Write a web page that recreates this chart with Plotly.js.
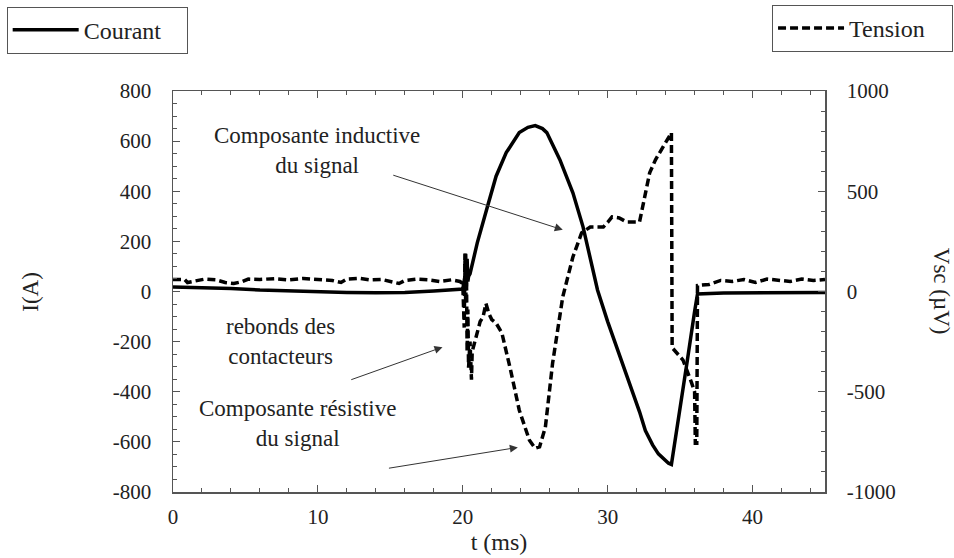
<!DOCTYPE html>
<html>
<head>
<meta charset="utf-8">
<script src="https://cdn.plot.ly/plotly-3.0.1.min.js"></script>
<style>html,body{margin:0;padding:0;background:#fff;}#chart{width:954px;height:558px;}</style>
</head>
<body>
<div id="chart"></div>
<script>
// Courant (A) vs time (ms)
const tCourant = [0, 2, 4, 6, 8, 10, 12, 14, 16, 18, 19.5, 20.0, 20.15, 20.2, 20.25, 20.3, 20.35, 20.4, 20.5, 21.0, 21.7, 22.3, 23.0, 23.9, 24.5, 25.0, 25.5, 25.8, 26.7, 27.6, 28.3, 28.8, 29.3, 30.0, 30.8, 31.5, 32.2, 32.6, 33.1, 33.5, 33.9, 34.2, 34.4, 35.0, 35.5, 36.0, 36.2, 38, 40, 42, 45];
const courant = [18, 16, 12, 6, 2, -2, -4, -5, -4, 2, 8, 10, 60, 150, 20, 130, 40, 60, 70, 194, 338, 460, 554, 634, 655, 662, 650, 634, 526, 394, 258, 126, 6, -120, -250, -370, -480, -555, -612, -648, -672, -685, -690, -470, -274, -80, -10, -6, -5, -4, -4];

// Tension (µV) vs time (ms)
const tTension = [0, 0.8, 1.0, 1.6, 2.2, 3.0, 3.6, 4.2, 4.8, 5.2, 6.0, 7.0, 8.0, 9.0, 10.0, 11.0, 11.6, 12.0, 12.8, 13.6, 14.4, 15.0, 15.6, 16.0, 16.8, 17.6, 18.4, 19.2, 19.8, 20.0, 20.1, 20.15, 20.2, 20.25, 20.3, 20.35, 20.4, 20.5, 20.6, 20.65, 20.8, 21.0, 21.2, 21.4, 21.6, 21.8, 22.0, 22.3, 22.7, 23.3, 23.9, 24.6, 25.0, 25.3, 25.7, 26.2, 26.9, 27.6, 28.2, 28.8, 29.7, 30.0, 30.3, 30.8, 31.3, 32.2, 32.4, 32.9, 33.3, 33.8, 34.4, 34.45, 35.2, 35.8, 36.0, 36.05, 36.15, 36.2, 37.0, 37.8, 38.6, 39.4, 40.2, 41.0, 41.8, 42.6, 43.4, 44.2, 45];
const tension = [60, 60, 45, 55, 62, 58, 45, 40, 50, 62, 60, 64, 58, 65, 62, 55, 45, 62, 66, 58, 60, 48, 40, 55, 62, 58, 50, 58, 50, 40, -180, 190, -60, 120, -300, -90, -380, -250, -440, -300, -260, -190, -150, -127, -60, -110, -140, -158, -207, -392, -592, -742, -782, -775, -677, -357, -27, 172, 292, 322, 322, 345, 372, 367, 347, 347, 422, 592, 657, 722, 792, -280, -342, -457, -500, -757, -757, 30, 35, 55, 50, 60, 45, 62, 58, 50, 62, 55, 60];

const xTickVals = [0, 10, 20, 30, 40];
const xTickText = ['0', '10', '20', '30', '40'];
const yTickVals = [-800, -600, -400, -200, 0, 200, 400, 600, 800];
const yTickText = ['-800', '-600', '-400', '-200', '0', '200', '400', '600', '800'];
const y2TickVals = [-1000, -500, 0, 500, 1000];
const y2TickText = ['-1000', '-500', '0', '500', '1000'];

const FONT = 'Liberation Serif, Times New Roman, serif';
const INK = '#222';
const AX = '#555';

const traces = [
  {x: tCourant, y: courant, type: 'scatter', mode: 'lines', name: 'Courant',
   line: {color: '#000', width: 3.5}, legend: 'legend'},
  {x: tTension, y: tension, type: 'scatter', mode: 'lines', name: 'Tension', yaxis: 'y2',
   line: {color: '#000', width: 3.5, dash: '8px,4px'}, legend: 'legend2'}
];

const arrowStyle = {showarrow: true, arrowhead: 2, arrowsize: 1.6, arrowwidth: 1, arrowcolor: '#333',
  axref: 'x', ayref: 'y', text: ''};

const legendBase = {xref: 'container', yref: 'container', yanchor: 'top', orientation: 'h',
  bordercolor: AX, borderwidth: 1, bgcolor: '#fff', font: {family: FONT, size: 24, color: INK},
  itemwidth: 66, entrywidth: 98};

const layout = {
  width: 954, height: 558,
  margin: {l: 173, r: 129, t: 91, b: 66, autoexpand: false},
  paper_bgcolor: '#fff', plot_bgcolor: '#fff',
  font: {family: FONT, size: 20, color: INK},
  showlegend: true,
  legend: Object.assign({}, legendBase, {x: 0.007, y: 0.988, xanchor: 'left'}),
  legend2: Object.assign({}, legendBase, {x: 0.999, y: 0.991, xanchor: 'right'}),
  xaxis: {range: [0, 45], tickvals: xTickVals, ticktext: xTickText, ticks: 'inside', ticklen: 7, tickcolor: AX, tickwidth: 1,
    minor: {dtick: 2, ticks: 'inside', ticklen: 4, tickcolor: AX},
    showline: true, linecolor: AX, linewidth: 1.5, mirror: 'ticks', showgrid: false, zeroline: false,
    automargin: false, ticklabelstandoff: 5, tickfont: {family: FONT, size: 21, color: INK},
    title: {text: 't (ms)', font: {family: FONT, size: 24, color: INK}, standoff: 3}},
  yaxis: {range: [-800, 800], tickvals: yTickVals, ticktext: yTickText, ticks: 'inside', ticklen: 7, tickcolor: AX,
    minor: {dtick: 50, ticks: 'inside', ticklen: 4, tickcolor: AX},
    showline: true, linecolor: AX, linewidth: 1.5, showgrid: false, zeroline: false,
    automargin: false, ticklabelstandoff: 16, tickfont: {family: FONT, size: 21, color: INK}},
  yaxis2: {range: [-1000, 1000], tickvals: y2TickVals, ticktext: y2TickText, overlaying: 'y', side: 'right', ticks: 'inside', ticklen: 7, tickcolor: AX,
    minor: {dtick: 100, ticks: 'inside', ticklen: 4, tickcolor: AX},
    showline: true, linecolor: AX, linewidth: 1.5, showgrid: false, zeroline: false,
    automargin: false, ticklabelstandoff: 16, tickfont: {family: FONT, size: 21, color: INK}},
  annotations: [
    {xref: 'x', yref: 'y', x: 9.94, y: 564, text: 'Composante inductive<br>du signal', showarrow: false,
     font: {family: FONT, size: 23, color: INK}, align: 'center'},
    Object.assign({xref: 'x', yref: 'y', x: 26.9, y: 246, ax: 15.1, ay: 466}, arrowStyle),
    {xref: 'x', yref: 'y', x: 7.4, y: -198, text: 'rebonds des<br>contacteurs', showarrow: false,
     font: {family: FONT, size: 23, color: INK}, align: 'center'},
    Object.assign({xref: 'x', yref: 'y', x: 18.6, y: -222, ax: 12.2, ay: -354}, arrowStyle),
    {xref: 'x', yref: 'y', x: 8.6, y: -526, text: 'Composante résistive<br>du signal', showarrow: false,
     font: {family: FONT, size: 23, color: INK}, align: 'center'},
    Object.assign({xref: 'x', yref: 'y', x: 23.8, y: -622, ax: 14.8, ay: -706}, arrowStyle),
    {xref: 'paper', yref: 'paper', x: -0.219, y: 0.5, text: 'I(A)', textangle: -90, showarrow: false,
     font: {family: FONT, size: 23, color: INK}, xanchor: 'center', yanchor: 'middle'},
    {xref: 'paper', yref: 'paper', x: 1.179, y: 0.5, text: 'Vsc (µV)', textangle: 90, showarrow: false,
     font: {family: FONT, size: 23, color: INK}, xanchor: 'center', yanchor: 'middle'}
  ]
};

Plotly.newPlot('chart', traces, layout, {displayModeBar: false, staticPlot: true});
</script>
</body>
</html>
